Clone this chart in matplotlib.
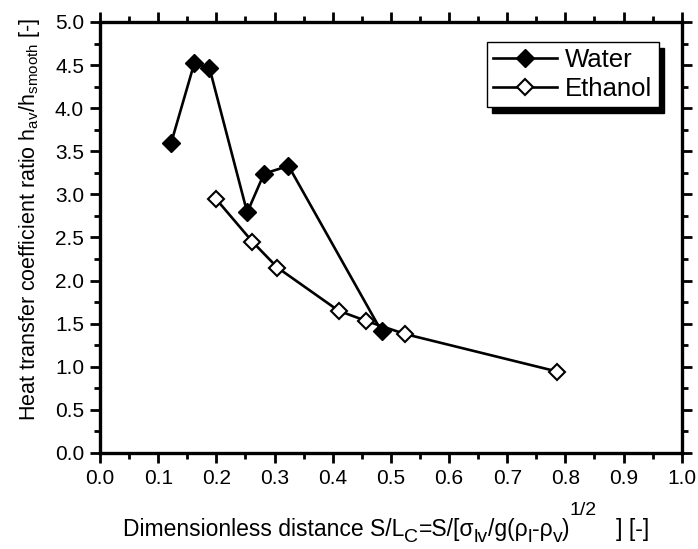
import matplotlib
matplotlib.use("Agg")
import matplotlib.pyplot as plt
from matplotlib.ticker import MultipleLocator

# font setup, Arial-like
plt.rcParams["font.family"] = ["Liberation Sans", "DejaVu Sans"]
plt.rcParams["mathtext.fontset"] = "custom"
plt.rcParams["mathtext.rm"] = "Liberation Sans"
plt.rcParams["mathtext.it"] = "Liberation Sans"
plt.rcParams["mathtext.sf"] = "Liberation Sans"

# data
water_x = [0.122, 0.162, 0.188, 0.253, 0.282, 0.324, 0.484]
water_y = [3.59, 4.52, 4.47, 2.79, 3.24, 3.33, 1.41]

ethanol_x = [0.199, 0.262, 0.305, 0.410, 0.458, 0.524, 0.786]
ethanol_y = [2.95, 2.45, 2.15, 1.65, 1.53, 1.38, 0.944]

x_ticks = [0.0, 0.1, 0.2, 0.3, 0.4, 0.5, 0.6, 0.7, 0.8, 0.9, 1.0]
y_ticks = [0.0, 0.5, 1.0, 1.5, 2.0, 2.5, 3.0, 3.5, 4.0, 4.5, 5.0]

# x label pieces: (text, level) level 0 normal, -1 subscript, 1 superscript
xlabel_parts = [
    ("Dimensionless distance S/L", 0),
    ("C", -1),
    ("=S/[\u03c3", 0),
    ("lv", -1),
    ("/g(\u03c1", 0),
    ("l", -1),
    ("-\u03c1", 0),
    ("v", -1),
    (")", 0),
    ("1/2", 1),
    ("   ] [-]", 0),
]


def draw_xlabel(fig, size, x_px, base_px):
    """build the x label piece by piece, like the original"""
    sub = size * 0.85
    shift = {0: 0, -1: -4.5, 1: 15}
    prev = fig.text(x_px / 698, base_px / 549, xlabel_parts[0][0],
                    fontsize=size, ha="left", va="baseline")
    for text, level in xlabel_parts[1:]:
        prev = fig.axes[0].annotate(
            text, xy=(1, base_px), xycoords=(prev, "figure pixels"),
            xytext=(0, shift[level]), textcoords="offset points",
            fontsize=size if level == 0 else sub,
            ha="left", va="baseline", annotation_clip=False)


def main():
    fig = plt.figure(figsize=(6.98, 5.49), dpi=100)
    ax = fig.add_axes([0.1433, 0.175, 0.8334, 0.785])

    ax.plot(water_x, water_y, color="black", linewidth=1.9,
            marker="D", markersize=9, markerfacecolor="black",
            markeredgecolor="black", label="Water")
    ax.plot(ethanol_x, ethanol_y, color="black", linewidth=1.9,
            marker="D", markersize=8, markerfacecolor="white",
            markeredgecolor="black", markeredgewidth=1.5, label="Ethanol")

    ax.set_xlim(0.0, 1.0)
    ax.set_ylim(0.0, 5.0)
    ax.set_xticks(x_ticks)
    ax.set_yticks(y_ticks)
    ax.set_xticklabels([f"{v:.1f}" for v in x_ticks])
    ax.set_yticklabels([f"{v:.1f}" for v in y_ticks])
    ax.xaxis.set_minor_locator(MultipleLocator(0.05))
    ax.yaxis.set_minor_locator(MultipleLocator(0.25))

    ax.tick_params(which="both", direction="out", top=True, right=True,
                   width=2.0, labelsize=15)
    ax.tick_params(which="major", length=7.5, pad=4)
    ax.tick_params(which="minor", length=4.5)
    for sp in ax.spines.values():
        sp.set_linewidth(2.4)

    draw_xlabel(fig, 16.5, 123, 549 - 536)

    ax.set_ylabel(r"Heat transfer coefficient ratio h$_{\rm av}$/h$_{\rm smooth}$ [-]",
                  fontsize=15.5)
    ax.yaxis.set_label_coords(-0.099, 0.542)

    leg = ax.legend(loc="upper right", bbox_to_anchor=(0.9605, 0.9536),
                    fontsize=18.5, frameon=True, fancybox=False,
                    shadow={"color": "black", "alpha": 1.0, "ox": 4, "oy": -4},
                    handlelength=2.5, handletextpad=0.3, borderpad=0.25,
                    labelspacing=0.18, borderaxespad=0)
    leg.get_frame().set_edgecolor("black")
    leg.get_frame().set_linewidth(1.0)

    fig.savefig("out.png", dpi=100)
    plt.close(fig)


if __name__ == "__main__":
    main()
